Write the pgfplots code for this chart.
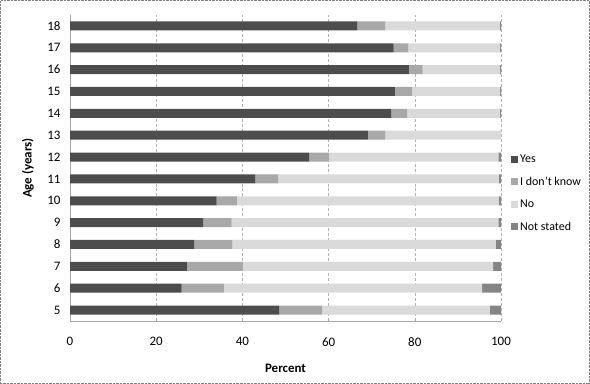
\documentclass[border=0pt]{standalone}
\usepackage{pgfplots}
\pgfplotsset{compat=1.18}
\usepackage{pgfplotstable}
\usepackage{fontspec}
\setmainfont{Carlito}
\definecolor{cyes}{HTML}{4D4D4D}
\definecolor{cidk}{HTML}{A8A8A8}
\definecolor{cno}{HTML}{DADADA}
\definecolor{cns}{HTML}{858585}
\pgfplotstableread{
age yes idk no ns
5 48.5 10.0 38.9 2.6
6 25.9 9.8 59.9 4.4
7 27.1 13.0 58.1 1.8
8 28.8 8.9 61.1 1.2
9 30.9 6.6 61.9 0.6
10 34.0 4.7 60.8 0.5
11 43.0 5.3 51.2 0.5
12 55.5 4.6 39.3 0.6
13 69.1 4.1 26.8 0.0
14 74.5 3.7 21.6 0.2
15 75.4 4.0 20.4 0.2
16 78.6 3.2 18.0 0.2
17 75.1 3.4 21.3 0.2
18 66.6 6.6 26.5 0.3
}\datatable
\begin{document}
\begin{tikzpicture}
\begin{axis}[
  at={(70bp,63bp)}, anchor=south west,
  scale only axis, width=431bp, height=306bp,
  xbar stacked, bar width=9bp,
  xmin=0, xmax=100, ymin=4.5, ymax=18.5,
  xtick={0,20,40,60,80,100},
  ytick={5,...,18},
  axis x line*=bottom, axis y line*=left,
  axis line style={gray!70, thin},
  x axis line style={-}, y axis line style={-},
  xmajorgrids, grid style={gray!60, densely dashed},
  tick style={gray!70, thin},
  major tick length=3bp,
  ytick style={draw=none},
  xtick align=inside,
  /pgf/number format/assume math mode=true,
  ticklabel style={font=\fontsize{13}{15}\selectfont},
  xticklabel style={yshift=-13bp},
  yticklabel style={xshift=-6bp},
  xlabel={\bfseries Percent},
  ylabel={\bfseries Age (years)},
  label style={font=\fontsize{13}{15}\selectfont},
  xlabel style={at={(axis description cs:0.5,0)}, anchor=center, yshift=-47bp},
  ylabel style={at={(axis description cs:-0.0974,0.5)}, anchor=center},
  legend style={at={(1.0,0.418)}, anchor=west, xshift=8bp, draw=none, fill=none,
    font=\fontsize{12}{14}\selectfont, row sep=9bp, inner xsep=2bp},
  legend cell align=left,
  legend image code/.code={\fill[#1] (0bp,-3.5bp) rectangle (7bp,3.5bp);},
]
\addplot[fill=cyes, draw=none] table[x=yes, y=age] {\datatable};
\addplot[fill=cidk, draw=none] table[x=idk, y=age] {\datatable};
\addplot[fill=cno, draw=none] table[x=no, y=age] {\datatable};
\addplot[fill=cns, draw=none] table[x=ns, y=age] {\datatable};
\legend{Yes, I don't know, No, Not stated}
\end{axis}
\pgfresetboundingbox
\draw[gray, densely dotted] (0.5bp,0.5bp) rectangle (589.5bp,383.5bp);
\useasboundingbox (0,0) rectangle (590bp,384bp);
\end{tikzpicture}
\end{document}
